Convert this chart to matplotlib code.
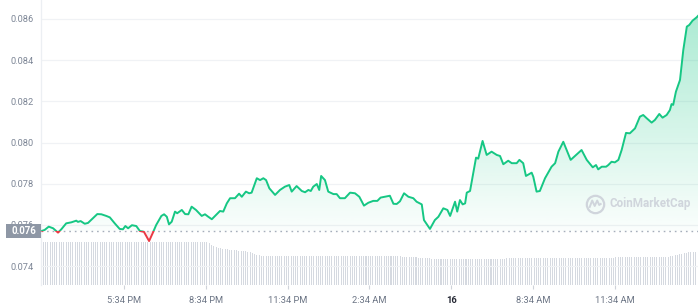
import numpy as np
import matplotlib
matplotlib.use('Agg')
import matplotlib.pyplot as plt
import matplotlib.colors as mcolors
import matplotlib.transforms as mtransforms
from matplotlib.patches import Rectangle
from matplotlib.path import Path

plt.rcParams['font.family'] = ['Roboto', 'DejaVu Sans']

# hours since 2:34 PM
hours = [0.00, 0.09, 0.24, 0.40, 0.58, 0.70, 0.88, 1.07, 1.25, 1.31, 1.41, 1.56, 1.68, 1.86, 2.02, 2.17,
         2.35, 2.48, 2.66, 2.84, 2.96, 3.05, 3.15, 3.29, 3.45, 3.58, 3.73, 3.92, 4.06, 4.18, 4.37,
         4.47, 4.57, 4.65, 4.75, 4.87, 4.95, 5.12, 5.24, 5.36, 5.48, 5.64, 5.85, 5.97, 6.09, 6.22, 6.40,
         6.52, 6.64, 6.77, 6.89, 7.07, 7.22, 7.32, 7.47, 7.59, 7.68, 7.87, 7.99, 8.11, 8.21, 8.33, 8.54, 8.72,
         8.90, 9.06, 9.15, 9.33, 9.52, 9.64, 9.76, 9.85, 9.94, 10.07, 10.16, 10.23, 10.37, 10.49, 10.68, 10.80,
         10.92, 11.10, 11.29, 11.47, 11.63, 11.80, 11.96, 12.14, 12.29, 12.41, 12.57, 12.75, 12.88, 13.00,
         13.12, 13.27, 13.43, 13.61, 13.73, 13.92,
         14.00, 14.22, 14.40, 14.53, 14.71, 14.86, 14.96, 15.14, 15.22, 15.32, 15.42, 15.51, 15.57, 15.69,
         15.91, 15.99, 16.15, 16.30, 16.48, 16.67, 16.79, 16.91, 17.09, 17.22, 17.40, 17.50, 17.64,
         17.74, 17.95, 18.01, 18.13, 18.25, 18.44, 18.68, 18.81, 18.93, 19.11, 19.38, 19.78, 19.97, 20.09,
         20.19, 20.31, 20.39, 20.52, 20.68, 20.76, 20.88, 21.00, 21.13, 21.25,
         21.41, 21.55, 21.74, 21.92, 22.04, 22.17, 22.35, 22.47, 22.63, 22.75, 22.90, 23.02, 23.08, 23.14,
         23.24, 23.39, 23.51, 23.64, 23.73, 23.85, 24.00, 24.05]

price = [0.07572, 0.07576, 0.07592, 0.07584, 0.07563, 0.07579, 0.07608, 0.07613, 0.07621, 0.07615, 0.07619,
         0.07606, 0.07610, 0.07633, 0.07653, 0.07652, 0.07644, 0.07637, 0.07608, 0.07581, 0.07579, 0.07595,
         0.07584, 0.07599, 0.07595, 0.07571, 0.07567, 0.07522, 0.07563, 0.07600, 0.07644,
         0.07652, 0.07640, 0.07603, 0.07616, 0.07665, 0.07657, 0.07673, 0.07653, 0.07652, 0.07689, 0.07673,
         0.07644, 0.07652, 0.07640, 0.07628, 0.07652, 0.07668, 0.07665, 0.07705, 0.07730, 0.07730, 0.07752,
         0.07737, 0.07762, 0.07754, 0.07757, 0.07827, 0.07818, 0.07827, 0.07818, 0.07778, 0.07746, 0.07770,
         0.07786, 0.07794, 0.07762, 0.07789, 0.07765, 0.07759, 0.07770, 0.07765, 0.07786, 0.07799, 0.07770,
         0.07838, 0.07818, 0.07762, 0.07750, 0.07750, 0.07730, 0.07730, 0.07757, 0.07754, 0.07737, 0.07694,
         0.07708, 0.07717, 0.07717, 0.07733, 0.07737, 0.07742, 0.07703, 0.07702, 0.07715, 0.07754, 0.07737,
         0.07730, 0.07713, 0.07700,
         0.07624, 0.07581, 0.07624, 0.07640, 0.07681, 0.07673, 0.07644, 0.07713, 0.07665, 0.07721, 0.07700,
         0.07705, 0.07757, 0.07765, 0.07927, 0.07922, 0.08008, 0.07940, 0.07956, 0.07940, 0.07935, 0.07895,
         0.07912, 0.07900, 0.07900, 0.07916, 0.07900,
         0.07838, 0.07854, 0.07834, 0.07762, 0.07765, 0.07827, 0.07883, 0.07900, 0.07956, 0.08004, 0.07916,
         0.07964, 0.07916, 0.07896, 0.07880, 0.07891, 0.07870, 0.07883, 0.07883, 0.07891, 0.07907, 0.07904,
         0.07916, 0.07964,
         0.08047, 0.08045, 0.08069, 0.08126, 0.08134, 0.08118, 0.08097, 0.08110, 0.08139, 0.08121, 0.08134,
         0.08158, 0.08187, 0.08183, 0.08247, 0.08304, 0.08449, 0.08563, 0.08571, 0.08592, 0.08608, 0.08615]

base_price = 0.07571
base_label = '0.076'

# volume bars, one per 5 minutes (relative units)
volume = [
    43, 43, 43, 43, 43, 43, 43, 43, 43, 43, 43, 43,
    43, 43, 43, 43, 43, 43, 43, 43, 43, 43, 43, 43,
    43, 43, 43, 43, 43, 43, 43, 43, 43, 43, 43, 43,
    43, 43, 43, 43, 43, 43, 43, 43, 43, 43, 43, 43,
    43, 43, 43, 43, 43, 43, 43, 43, 43, 43, 43, 43,
    43, 43, 43, 43, 43, 43, 43, 43, 43, 43, 43, 43,
    43, 42, 40, 39, 38, 37.5, 37, 36.5, 36, 36, 35.5, 35.5,
    35, 35, 34.5, 34.5, 34, 34, 33.5, 33, 32, 31, 30.5, 30,
    29, 29, 29, 29, 29, 29, 29, 29, 29, 29, 29, 29,
    29, 29, 29, 29, 29, 29, 29, 29, 29, 29, 29, 29,
    29, 29, 29, 29, 29, 29, 29, 29, 29, 29, 29, 29,
    29, 29, 29, 29, 29, 29, 29, 29, 29, 29, 29, 29,
    29, 29, 29, 29, 29, 29, 29, 29, 29, 29, 29, 29,
    29, 29, 28.5, 28.5, 28.5, 28, 28, 28, 28, 27.5, 27.5, 27.5,
    27, 27, 27, 26.5, 26.5, 26.5, 26, 26, 26, 26, 26, 26,
    26.5, 26.5, 26.5, 26.5, 26.5, 26.5, 26.5, 26.5, 26.5, 26.5, 26.5, 26.5,
    26.5, 26.5, 26.5, 26.5, 26.5, 26.5, 26.5, 26.5, 26.5, 26.5, 26.5, 26.5,
    27, 27, 27, 27, 27, 27, 27, 27, 27, 27, 27, 27,
    27, 27, 27, 27, 27, 27, 27, 27, 27, 27, 27, 27,
    27, 27, 27, 27, 27, 27, 27, 27, 27, 27, 27, 27,
    27, 27, 27, 27, 27, 27, 27, 27, 27, 27, 27, 27,
    28, 28, 28, 28, 28, 28, 28, 28, 28, 28, 28, 28,
    28, 28, 28, 28, 28, 28, 28, 28, 28, 28, 28, 28,
    29, 29.5, 30, 30.5, 31, 31.5, 32, 32.5, 33, 33, 33, 33,
]
vol_step_hours = 5 / 60

tick_hours = [3, 6, 9, 12, 15, 18, 21]
tick_labels = ['5:34 PM', '8:34 PM', '11:34 PM', '2:34 AM', '16', '8:34 AM', '11:34 AM']
y_ticks = [0.074, 0.076, 0.078, 0.080, 0.082, 0.084, 0.086]

GREEN = '#16c784'
RED = '#ea3943'
XMIN, XMAX = -0.044, 24.05
YMIN, YMAX = 0.073087, 0.086922

fig = plt.figure(figsize=(7, 3.04), dpi=100)
ax = fig.add_axes([41 / 700, 19 / 304, 657 / 700, 285 / 304])
axv = ax.twinx()
ax.set_zorder(2)
axv.set_zorder(1)
ax.patch.set_visible(False)

# volume
vol_x = np.arange(len(volume)) * vol_step_hours + vol_step_hours / 2
axv.bar(vol_x, volume, width=vol_step_hours * 0.45, color='#d5d9e0', linewidth=0)
axv.set_ylim(0, 285)
axv.set_yticks([])
for s in axv.spines.values():
    s.set_visible(False)

h = np.array(hours)
p = np.array(price)

# gradient fill above baseline
rgb = mcolors.to_rgb(GREEN)
grad = np.zeros((256, 1, 4))
grad[..., :3] = rgb
grad[:, 0, 3] = np.linspace(0.02, 0.38, 256)
im = ax.imshow(grad, extent=[XMIN, XMAX, base_price, YMAX], origin='lower',
               aspect='auto', zorder=1, interpolation='bilinear')
poly = ax.fill_between(h, p, base_price, where=p >= base_price, interpolate=True,
                       facecolor='none', edgecolor='none')
cp = Path.make_compound_path(*poly.get_paths())
im.set_clip_path(cp, transform=ax.transData)
ax.fill_between(h, p, base_price, where=p <= base_price, interpolate=True,
                facecolor=RED, alpha=0.08, edgecolor='none', zorder=1)

# line coloured by baseline
above = Rectangle((XMIN, base_price), XMAX - XMIN, YMAX - base_price, transform=ax.transData)
below = Rectangle((XMIN, YMIN), XMAX - XMIN, base_price - YMIN, transform=ax.transData)
lg, = ax.plot(h, p, color=GREEN, lw=1.4, zorder=5, solid_joinstyle='round')
lg.set_clip_path(above)
lr, = ax.plot(h, p, color=RED, lw=1.4, zorder=5, solid_joinstyle='round')
lr.set_clip_path(below)

ax.axhline(base_price, color='#a6aebb', lw=1.0, ls=(0, (1.2, 2.8)), zorder=3)

ax.set_xlim(XMIN, XMAX)
ax.set_ylim(YMIN, YMAX)
ax.set_yticks(y_ticks)
ax.set_yticklabels([f'{v:.3f}' for v in y_ticks])
ax.grid(axis='y', color='#f0f2f5', lw=0.9, zorder=0)
ax.set_axisbelow(True)
ax.set_xticks(tick_hours)
ax.set_xticklabels(tick_labels)
ax.tick_params(axis='y', length=0, pad=5.5, labelsize=6.7, labelcolor='#7d8696')
ax.tick_params(axis='x', length=3, width=0.8, color='#cfd3da', pad=5, labelsize=6.7, labelcolor='#6c7585')
for lbl in ax.get_xticklabels():
    if lbl.get_text() == '16':
        lbl.set_fontweight('bold')
        lbl.set_color('#222531')
for side in ['top', 'right', 'bottom']:
    ax.spines[side].set_visible(False)
ax.spines['left'].set_color('#eceff3')
ax.spines['left'].set_linewidth(0.9)

# current price box on the left
blend = mtransforms.blended_transform_factory(ax.transAxes, ax.transData)
box_h = 14 / 20.6 * 0.001
ax.add_patch(Rectangle((-35 / 657, base_price - box_h / 2), 35 / 657, box_h, transform=blend,
                       facecolor='#8e97a5', edgecolor='none', zorder=10, clip_on=False))
ax.text(-17.5 / 657, base_price, base_label, transform=blend, ha='center', va='center',
        color='white', fontsize=6.9, fontweight='bold', zorder=11, clip_on=False)

# watermark
wm_col = '#d0d5dc'
ax.plot([(594.7 - 41) / 657], [(285 - 203.5) / 285], transform=ax.transAxes, marker='o', ms=12.5,
        mfc='none', mec=wm_col, mew=1.6, zorder=2)
cx, cy = 594.7, 203.5
zig = [(-5, 3.5), (-2.5, -3), (0, 2.5), (2.5, -3), (4.5, 1.5), (6, 0.5)]
ax.plot([(cx + dx - 41) / 657 for dx, dy in zig], [(285 - (cy + dy)) / 285 for dx, dy in zig],
        transform=ax.transAxes, color=wm_col, lw=1.4, zorder=2, solid_joinstyle='round')
ax.text((609 - 41) / 657, (285 - 204) / 285, 'CoinMarketCap', transform=ax.transAxes,
        ha='left', va='center', fontsize=8.4, fontweight='bold', color=wm_col, zorder=2)

fig.savefig('out.png', dpi=100)
